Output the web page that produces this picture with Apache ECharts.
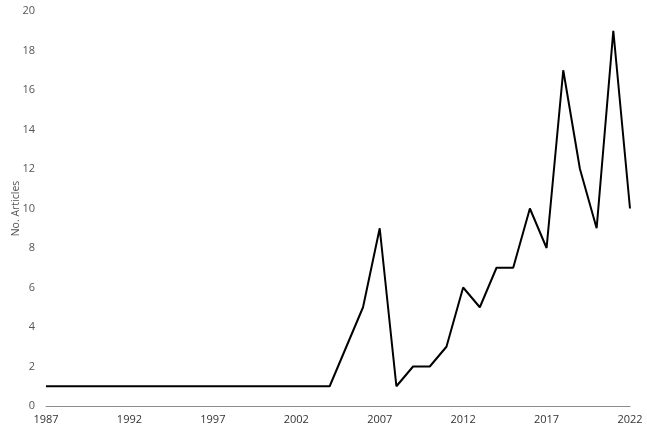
<!DOCTYPE html>
<html>
<head>
<meta charset="utf-8">
<script src="https://cdn.jsdelivr.net/npm/echarts@6/dist/echarts.min.js"></script>
<style>
  html, body { margin: 0; padding: 0; background: #fff; }
  #chart { width: 647px; height: 429px; }
</style>
</head>
<body>
<div id="chart"></div>
<script>
// years 1987..2022
const years = [];
for (let y = 1987; y <= 2022; y++) years.push(String(y));

// number of articles per year
const articles = [
  1, 1, 1, 1, 1, 1, 1, 1, 1, 1,   // 1987-1996
  1, 1, 1, 1, 1, 1, 1, 1,         // 1997-2004
  3, 5, 9, 1, 2, 2, 3, 6, 5, 7,   // 2005-2014
  7, 10, 8, 17, 12, 9, 19, 10     // 2015-2022
];

const chart = echarts.init(document.getElementById('chart'));
chart.setOption({
  backgroundColor: '#ffffff',
  animation: false,
  textStyle: { fontFamily: 'Open Sans' },
  grid: { left: 46, right: 17, top: 11, bottom: 23, containLabel: false, outerBoundsMode: 'none' },
  xAxis: {
    type: 'category',
    data: years,
    boundaryGap: false,
    axisLine: { lineStyle: { color: '#8c8c8c', width: 1 } },
    axisTick: { show: false },
    axisLabel: {
      interval: 4,
      color: '#333',
      fontSize: 11,
      margin: 8
    },
    splitLine: { show: false }
  },
  yAxis: {
    type: 'value',
    min: 0,
    max: 20,
    interval: 2,
    name: 'No. Articles',
    nameLocation: 'middle',
    nameGap: 24,
    nameMoveOverlap: false,
    nameTextStyle: { color: '#555', fontSize: 10.5 },
    axisLine: { show: false },
    axisTick: { show: false },
    axisLabel: { color: '#555', fontSize: 11, margin: 11 },
    splitLine: { show: false }
  },
  series: [{
    type: 'line',
    data: articles,
    symbol: 'none',
    lineStyle: { color: '#000', width: 2 }
  }]
});
</script>
</body>
</html>
